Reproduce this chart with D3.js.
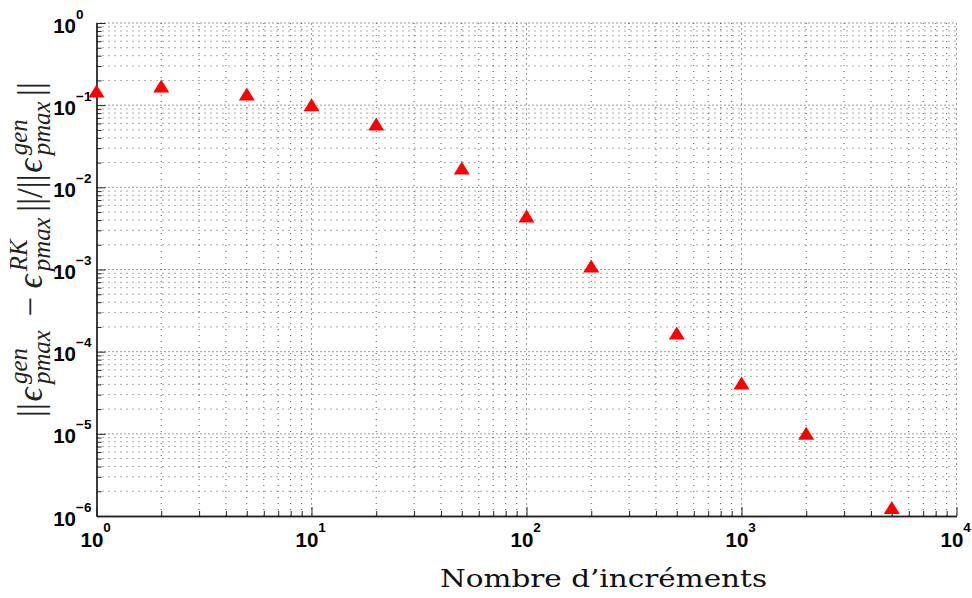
<!DOCTYPE html>
<html>
<head>
<meta charset="utf-8">
<script src="https://cdn.jsdelivr.net/npm/d3@7"></script>
<style>
  body { margin: 0; background: #fff; }
  svg { display: block; }
</style>
</head>
<body>
<div id="chart"></div>
<script>
// data
const increments = [1, 2, 5, 10, 20, 50, 100, 200, 500, 1000, 2000, 5000];
const relErrors = [0.149, 0.171, 0.137, 0.101, 0.059, 0.0172, 0.00448, 0.0011, 1.69e-4, 4.16e-5, 1.02e-5, 1.27e-6];
const xTickExps = [0, 1, 2, 3, 4];
const yTickExps = [0, -1, -2, -3, -4, -5, -6];
const xTitle = "Nombre d\u2019incr\u00e9ments";

const W = 972, H = 598;
const margin = { top: 23, right: 15.5, bottom: 82, left: 96.5 };
const width = W - margin.left - margin.right;
const height = H - margin.top - margin.bottom;

const svg = d3.select("#chart").append("svg")
    .attr("width", W)
    .attr("height", H);

const g = svg.append("g")
    .attr("transform", `translate(${margin.left},${margin.top})`);

const x = d3.scaleLog().domain([1, 1e4]).range([0, width]);
const y = d3.scaleLog().domain([1e-6, 1]).range([height, 0]);

const isMajor = v => Math.abs(Math.log10(v) - Math.round(Math.log10(v))) < 1e-9;
const xAll = x.ticks();
const yAll = y.ticks();

// grid
const grid = g.append("g").attr("class", "grid");
grid.selectAll(".vx")
    .data(xAll.filter(v => v > 1))
    .join("line")
    .attr("x1", d => x(d)).attr("x2", d => x(d))
    .attr("y1", 0).attr("y2", height)
    .attr("stroke", d => isMajor(d) ? "#9a9a9a" : "#555")
    .attr("stroke-width", 1)
    .attr("stroke-dasharray", d => isMajor(d) ? "2,3" : "1,5");
grid.selectAll(".hy")
    .data(yAll.filter(v => v > 1e-6))
    .join("line")
    .attr("x1", 0).attr("x2", width)
    .attr("y1", d => y(d)).attr("y2", d => y(d))
    .attr("stroke", d => isMajor(d) ? "#333" : "#555")
    .attr("stroke-width", 1)
    .attr("stroke-dasharray", d => isMajor(d) ? "1,3" : "1,5");

// axes: minor ticks, then major ticks (inward)
function styleAxis(sel) {
    sel.select(".domain").attr("stroke", "#222").attr("stroke-width", 1.3);
    sel.selectAll(".tick line").attr("stroke", "#222");
}
g.append("g")
    .attr("transform", `translate(0,${height})`)
    .call(d3.axisBottom(x).tickValues(xAll.filter(v => !isMajor(v))).tickSize(-5).tickSizeOuter(0).tickFormat(""))
    .call(styleAxis);
g.append("g")
    .call(d3.axisLeft(y).tickValues(yAll.filter(v => !isMajor(v))).tickSize(-5).tickSizeOuter(0).tickFormat(""))
    .call(styleAxis);

const xMajor = g.append("g")
    .attr("transform", `translate(0,${height})`)
    .call(d3.axisBottom(x).tickValues(xTickExps.map(e => Math.pow(10, e))).tickSize(-9).tickSizeOuter(0).tickFormat(""))
    .call(styleAxis);
const yMajor = g.append("g")
    .call(d3.axisLeft(y).tickValues(yTickExps.map(e => Math.pow(10, e))).tickSize(-9).tickSizeOuter(0).tickFormat(""))
    .call(styleAxis);

const labFont = "'Liberation Sans', Arial, Helvetica, sans-serif";
const fmtExp = e => (e < 0 ? "\u2212" + (-e) : "" + e);

// x tick labels 10^n
xMajor.selectAll(".tick").each(function (d) {
    const t = d3.select(this).append("text")
        .attr("x", -16.5)
        .attr("y", 31)
        .attr("text-anchor", "start")
        .attr("fill", "#000")
        .style("font-family", labFont)
        .style("font-weight", "bold");
    t.append("tspan").style("font-size", "20.5px").text("10");
    t.append("tspan").attr("dy", -15).style("font-size", "13.5px").text(fmtExp(Math.round(Math.log10(d))));
});

// y tick labels 10^n
yMajor.selectAll(".tick").each(function (d) {
    const tk = d3.select(this);
    tk.append("text")
        .attr("x", -20.5)
        .attr("y", 9)
        .attr("text-anchor", "end")
        .attr("fill", "#000")
        .style("font-family", labFont)
        .style("font-weight", "bold")
        .style("font-size", "20.5px")
        .text("10");
    tk.append("text")
        .attr("x", -20.5)
        .attr("y", -5)
        .attr("text-anchor", "start")
        .attr("fill", "#000")
        .style("font-family", labFont)
        .style("font-weight", "bold")
        .style("font-size", "13.5px")
        .text(fmtExp(Math.round(Math.log10(d))));
});

// markers: red upward triangles
const triangleUp = {
    draw(ctx) {
        const w = 16, h = 13;
        ctx.moveTo(0, -h / 2);
        ctx.lineTo(w / 2, h / 2);
        ctx.lineTo(-w / 2, h / 2);
        ctx.closePath();
    }
};
g.selectAll(".pt")
    .data(increments.map((n, i) => ({ n, e: relErrors[i] })))
    .join("path")
    .attr("class", "pt")
    .attr("transform", d => `translate(${x(d.n)},${y(d.e)})`)
    .attr("d", d3.symbol().type(triangleUp))
    .attr("fill", "#ff0000");

// x title
svg.append("text")
    .attr("x", 603.5)
    .attr("y", 587)
    .attr("text-anchor", "middle")
    .attr("textLength", 327)
    .attr("lengthAdjust", "spacingAndGlyphs")
    .attr("fill", "#111")
    .style("font-family", "'DejaVu Serif', 'Liberation Serif', serif")
    .style("font-size", "24px")
    .text(xTitle);

// y title: ||eps^gen_pmax - eps^RK_pmax|| / ||eps^gen_pmax||
const serif = "'Liberation Serif', 'DejaVu Serif', serif";
const yt = svg.append("g");
const inner = yt.append("g");
let cursor = 0;
const mainSize = 21, scriptSize = 15;

function piece(txt, italic, size, dy) {
    const t = inner.append("text")
        .attr("x", cursor)
        .attr("y", dy || 0)
        .style("font-family", serif)
        .style("font-style", italic ? "italic" : "normal")
        .style("font-size", size + "px")
        .attr("fill", "#222")
        .text(txt);
    return t.node().getBBox().width;
}
function adv(w) { cursor += w; }
function eps(sup) {
    adv(piece("\u03f5", true, mainSize, 0) + 0.5);
    const w1 = piece(sup, true, scriptSize, -9);
    const w2 = piece("pmax", true, scriptSize, 5);
    adv(Math.max(w1, w2) + 2);
}

adv(piece("||", false, mainSize, 0) + 1);
eps("gen");
adv(5);
adv(piece("\u2212", false, mainSize, 0) + 5);
eps("RK");
adv(piece("||/||", false, mainSize, 0) + 1);
eps("gen");
adv(piece("||", false, mainSize, 0));

const bb = inner.node().getBBox();
const targetLen = 335;
const s = targetLen / bb.width;
inner.attr("transform", `translate(${-bb.x - bb.width / 2},0)`);
yt.attr("transform", `translate(42,249.5) rotate(-90) scale(${s})`);
</script>
</body>
</html>
